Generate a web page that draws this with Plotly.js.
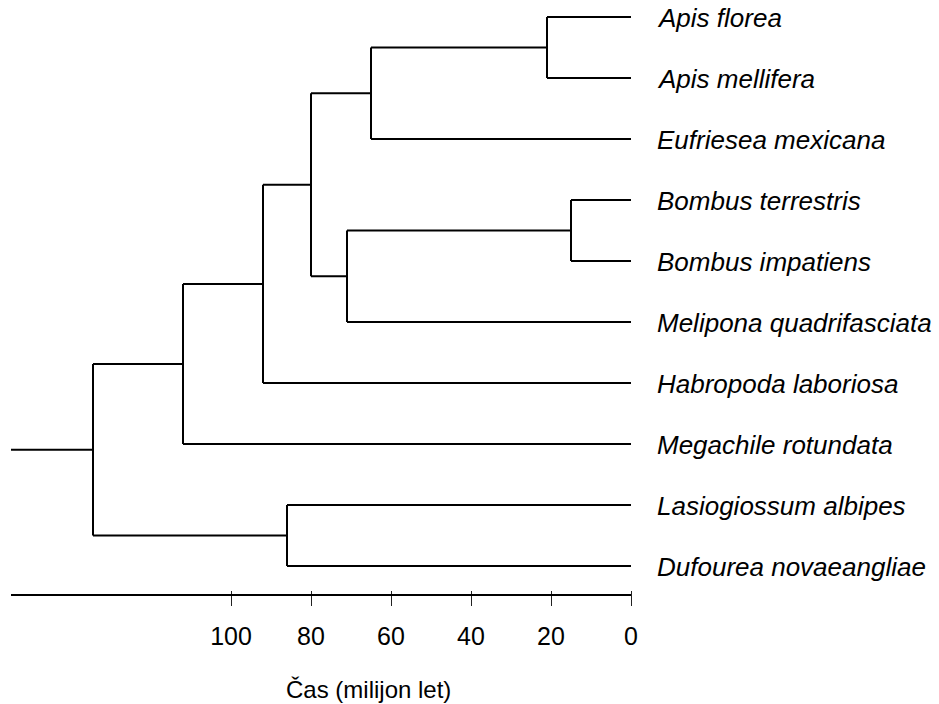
<!DOCTYPE html>
<html>
<head>
<meta charset="utf-8">
<script src="https://cdn.plot.ly/plotly-3.0.1.min.js"></script>
<style>html,body{margin:0;padding:0;background:#fff;}#chart{width:939px;height:704px;}</style>
</head>
<body>
<div id="chart"></div>
<script>
// ---- data ----
const species = [
  "Apis florea", "Apis mellifera", "Eufriesea mexicana", "Bombus terrestris",
  "Bombus impatiens", "Melipona quadrifasciata", "Habropoda laboriosa",
  "Megachile rotundata", "Lasiogiossum albipes", "Dufourea novaeangliae"
];
// internal nodes (ids 10..18): children ids and age (million years)
const cladeChildren = [[0,1],[10,2],[3,4],[12,5],[11,13],[14,6],[15,7],[8,9],[16,17]];
const cladeAges = [21, 65, 15, 71, 80, 92, 112, 86, 134.5];
const rootStemAge = 155;
const tickValues = [0, 20, 40, 60, 80, 100];
const axisTitle = "Čas (milijon let)";

// ---- layout of tree ----
const nLeaf = species.length;
const age = [], ypos = [];
for (let i = 0; i < nLeaf; i++) { age[i] = 0; ypos[i] = i; }
cladeChildren.forEach((ch, k) => {
  const id = nLeaf + k;
  age[id] = cladeAges[k];
  ypos[id] = (ypos[ch[0]] + ypos[ch[1]]) / 2;
});
const xs = [], ys = [];
cladeChildren.forEach((ch, k) => {
  const id = nLeaf + k;
  xs.push(age[id], age[id], null); ys.push(ypos[ch[0]], ypos[ch[1]], null);
  ch.forEach(c => { xs.push(age[id], age[c], null); ys.push(ypos[c], ypos[c], null); });
});
const rootId = nLeaf + cladeChildren.length - 1;
xs.push(rootStemAge, age[rootId], null); ys.push(ypos[rootId], ypos[rootId], null);

const FONT = "Liberation Sans, Arial, sans-serif";
const plotH = 704 - 114;
const annotations = species.map((s, i) => ({
  x: 0, y: i, xref: 'x', yref: 'y', text: '<i>' + s + '</i>', showarrow: false,
  xanchor: 'left', yanchor: 'middle', xshift: 24, yshift: -1,
  font: {family: FONT, size: 26, color: '#000'}
}));
annotations.push({
  x: 368/939, y: (plotH - 689)/plotH, xref: 'paper', yref: 'paper', text: axisTitle,
  showarrow: false, xanchor: 'center', yanchor: 'middle',
  font: {family: FONT, size: 24, color: '#000'}
});

const data = [{
  x: xs, y: ys, type: 'scatter', mode: 'lines',
  line: {color: '#000', width: 2}, hoverinfo: 'skip', connectgaps: false
}];

const layout = {
  width: 939, height: 704,
  margin: {l: 0, r: 0, t: 0, b: 114},
  paper_bgcolor: '#fff', plot_bgcolor: '#fff',
  showlegend: false,
  xaxis: {
    range: [157.75, -77], tickvals: tickValues, ticktext: tickValues.map(String),
    ticks: 'outside', ticklen: 15, tickwidth: 1, tickcolor: '#222',
    showgrid: false, zeroline: false, showline: false,
    tickfont: {family: FONT, size: 25, color: '#000'}, ticklabelstandoff: 9
  },
  yaxis: {range: [(plotH - 17)/61, -17/61], visible: false, showgrid: false, zeroline: false},
  shapes: [{
    type: 'line', xref: 'x', yref: 'paper', x0: rootStemAge, x1: 0,
    y0: -5/plotH, y1: -5/plotH, line: {color: '#000', width: 2}
  }],
  annotations: annotations
};

Plotly.newPlot('chart', data, layout, {staticPlot: true, displayModeBar: false});
</script>
</body>
</html>
